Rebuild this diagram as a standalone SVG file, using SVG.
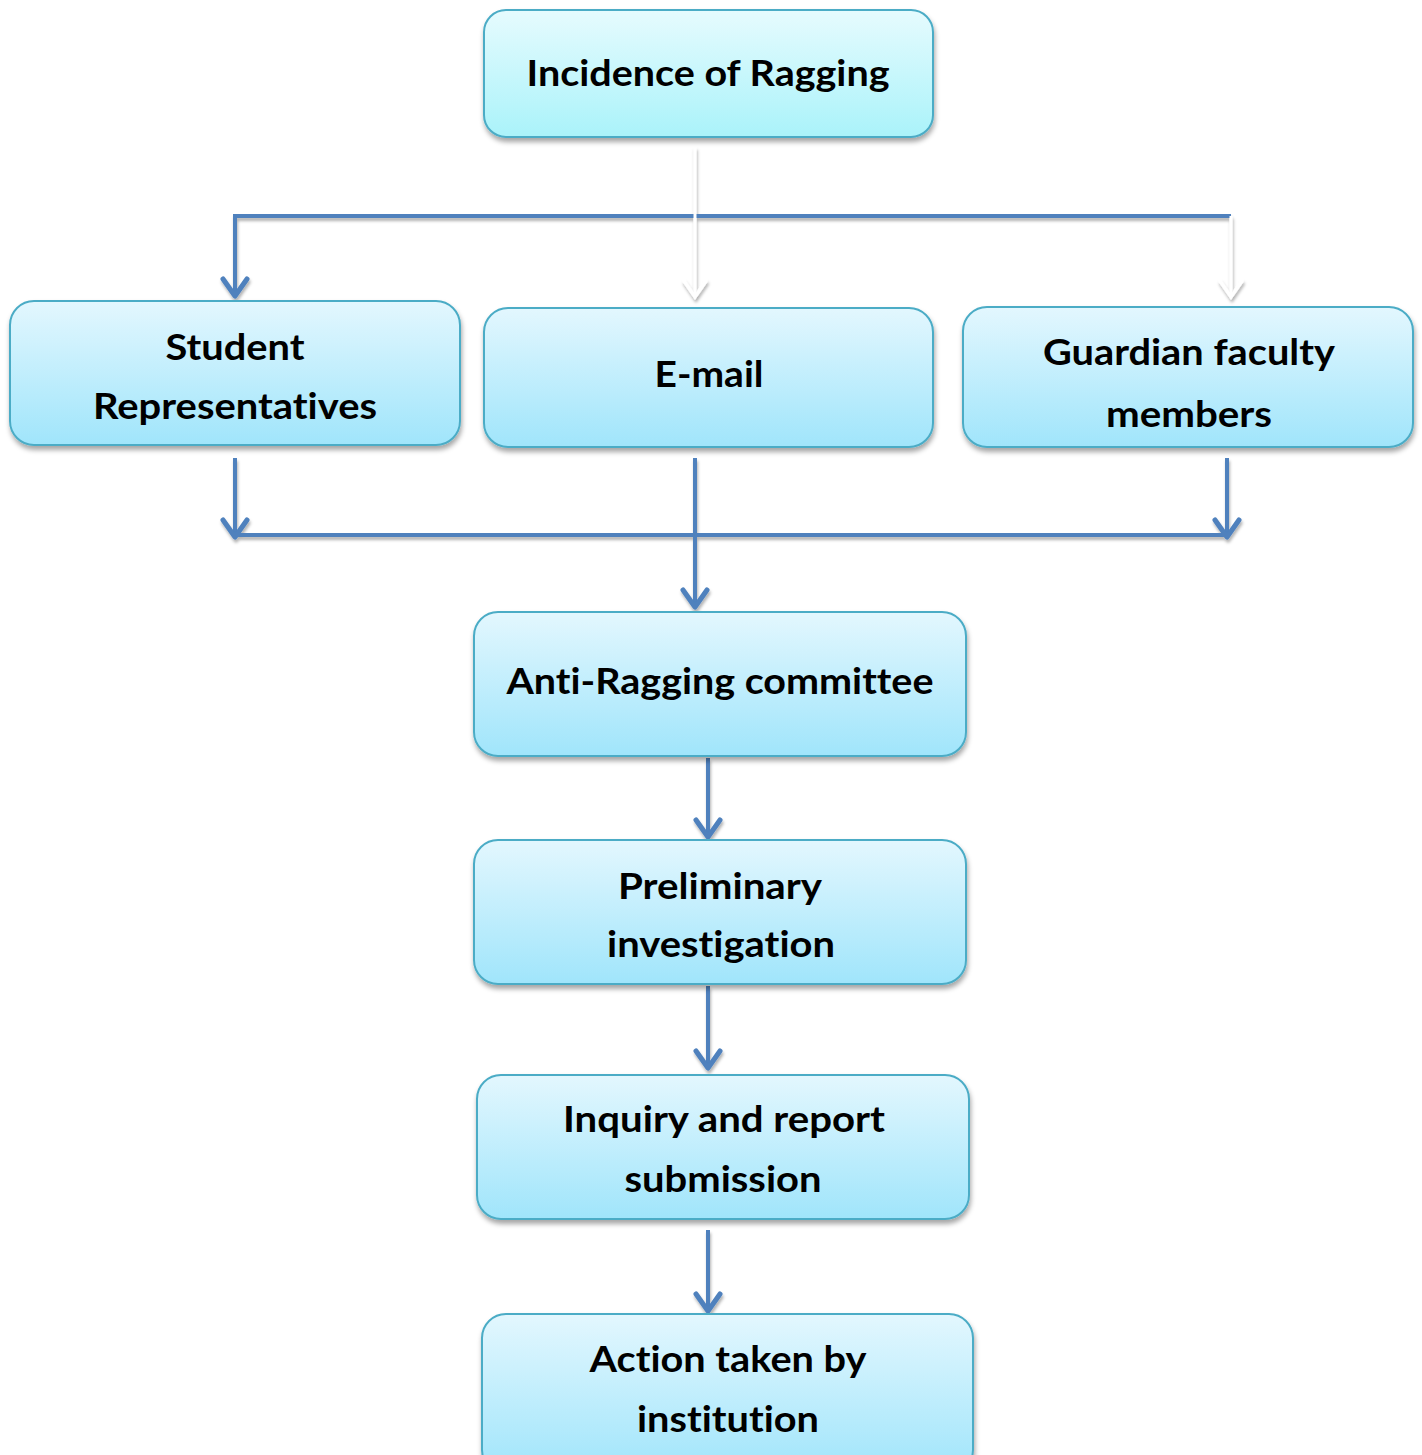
<svg xmlns="http://www.w3.org/2000/svg" width="1422" height="1455" viewBox="0 0 1422 1455">
<style>
  .box { stroke: #4bacc6; stroke-width: 2; filter: url(#shadow); }
  .b { fill: url(#gBlue); }
  .c { fill: url(#gCyan); }
  .t { font-family: Lato, "Open Sans", "Liberation Sans", sans-serif; font-weight: bold; font-size: 37px; fill: #000; text-anchor: middle; font-variant-ligatures: none; }
  .ln { fill: none; stroke: #4f81bd; stroke-width: 4; }
  .wl { fill: none; stroke: #ffffff; stroke-width: 3; }
</style>
<defs>
  <linearGradient id="gBlue" x1="0" y1="0" x2="0" y2="1">
    <stop offset="0" stop-color="#e3f7fe"/>
    <stop offset="1" stop-color="#a0e5fb"/>
  </linearGradient>
  <linearGradient id="gCyan" x1="0" y1="0" x2="0" y2="1">
    <stop offset="0" stop-color="#e6fbfe"/>
    <stop offset="1" stop-color="#aaf3fa"/>
  </linearGradient>
  <filter id="shadow" x="-5%" y="-10%" width="110%" height="130%">
    <feDropShadow dx="1" dy="4" stdDeviation="2.5" flood-color="#000" flood-opacity="0.35"/>
  </filter>
  <filter id="lshadow" filterUnits="userSpaceOnUse" x="0" y="0" width="1422" height="1455">
    <feDropShadow dx="1" dy="3" stdDeviation="1.5" flood-color="#000" flood-opacity="0.3"/>
  </filter>
  <marker id="ab" markerUnits="userSpaceOnUse" markerWidth="40" markerHeight="40" refX="0" refY="0" orient="auto" overflow="visible">
    <path d="M-17,-12 L0,0 L-17,12" fill="none" stroke="#4f81bd" stroke-width="5" stroke-linecap="round" stroke-linejoin="round"/>
  </marker>
  <marker id="aw" markerUnits="userSpaceOnUse" markerWidth="40" markerHeight="40" refX="0" refY="0" orient="auto" overflow="visible">
    <path d="M-16,-11 L0,0 L-16,11" fill="none" stroke="#ffffff" stroke-width="3.5" stroke-linecap="round"/>
  </marker>
</defs>
<rect width="1422" height="1455" fill="#ffffff"/>

<g id="connectors" filter="url(#lshadow)">
  <path class="ln" d="M1231,216 L235,216 L235,296" marker-end="url(#ab)"/>
  <path class="wl" d="M695,147 L695,297" marker-end="url(#aw)"/>
  <path class="wl" d="M1231,216 L1231,297" marker-end="url(#aw)"/>
  <path class="ln" d="M235,458 L235,537" marker-end="url(#ab)"/>
  <path class="ln" d="M1227,458 L1227,537" marker-end="url(#ab)"/>
  <path class="ln" d="M235,535 L1227,535"/>
  <path class="ln" d="M695,458 L695,607" marker-end="url(#ab)"/>
  <path class="ln" d="M708,758 L708,837" marker-end="url(#ab)"/>
  <path class="ln" d="M708,986 L708,1068" marker-end="url(#ab)"/>
  <path class="ln" d="M708,1230 L708,1311" marker-end="url(#ab)"/>
</g>

<g id="n-incidence">
  <rect class="box c" x="484" y="10" width="449" height="127" rx="22"/>
  <text class="t" x="708" y="86" textLength="363" lengthAdjust="spacingAndGlyphs">Incidence of Ragging</text>
</g>
<g id="n-student">
  <rect class="box b" x="10" y="301" width="450" height="144" rx="24"/>
  <text class="t" x="235" y="360" textLength="139" lengthAdjust="spacingAndGlyphs">Student</text>
  <text class="t" x="235" y="419" textLength="284" lengthAdjust="spacingAndGlyphs">Representatives</text>
</g>
<g id="n-email">
  <rect class="box b" x="484" y="308" width="449" height="139" rx="24"/>
  <text class="t" x="709" y="387" textLength="109" lengthAdjust="spacingAndGlyphs">E-mail</text>
</g>
<g id="n-guardian">
  <rect class="box b" x="963" y="307" width="450" height="140" rx="24"/>
  <text class="t" x="1189" y="365" textLength="292" lengthAdjust="spacingAndGlyphs">Guardian faculty</text>
  <text class="t" x="1189" y="427" textLength="166" lengthAdjust="spacingAndGlyphs">members</text>
</g>
<g id="n-committee">
  <rect class="box b" x="474" y="612" width="492" height="144" rx="24"/>
  <text class="t" x="720" y="694" textLength="427" lengthAdjust="spacingAndGlyphs">Anti-Ragging committee</text>
</g>
<g id="n-preliminary">
  <rect class="box b" x="474" y="840" width="492" height="144" rx="24"/>
  <text class="t" x="720" y="899" textLength="204" lengthAdjust="spacingAndGlyphs">Preliminary</text>
  <text class="t" x="721" y="957" textLength="228" lengthAdjust="spacingAndGlyphs">investigation</text>
</g>
<g id="n-inquiry">
  <rect class="box b" x="477" y="1075" width="492" height="144" rx="24"/>
  <text class="t" x="724" y="1132" textLength="322" lengthAdjust="spacingAndGlyphs">Inquiry and report</text>
  <text class="t" x="723" y="1192" textLength="197" lengthAdjust="spacingAndGlyphs">submission</text>
</g>
<g id="n-action">
  <rect class="box b" x="482" y="1314" width="491" height="160" rx="24"/>
  <text class="t" x="728" y="1372" textLength="277" lengthAdjust="spacingAndGlyphs">Action taken by</text>
  <text class="t" x="728" y="1432" textLength="182" lengthAdjust="spacingAndGlyphs">institution</text>
</g>
</svg>
